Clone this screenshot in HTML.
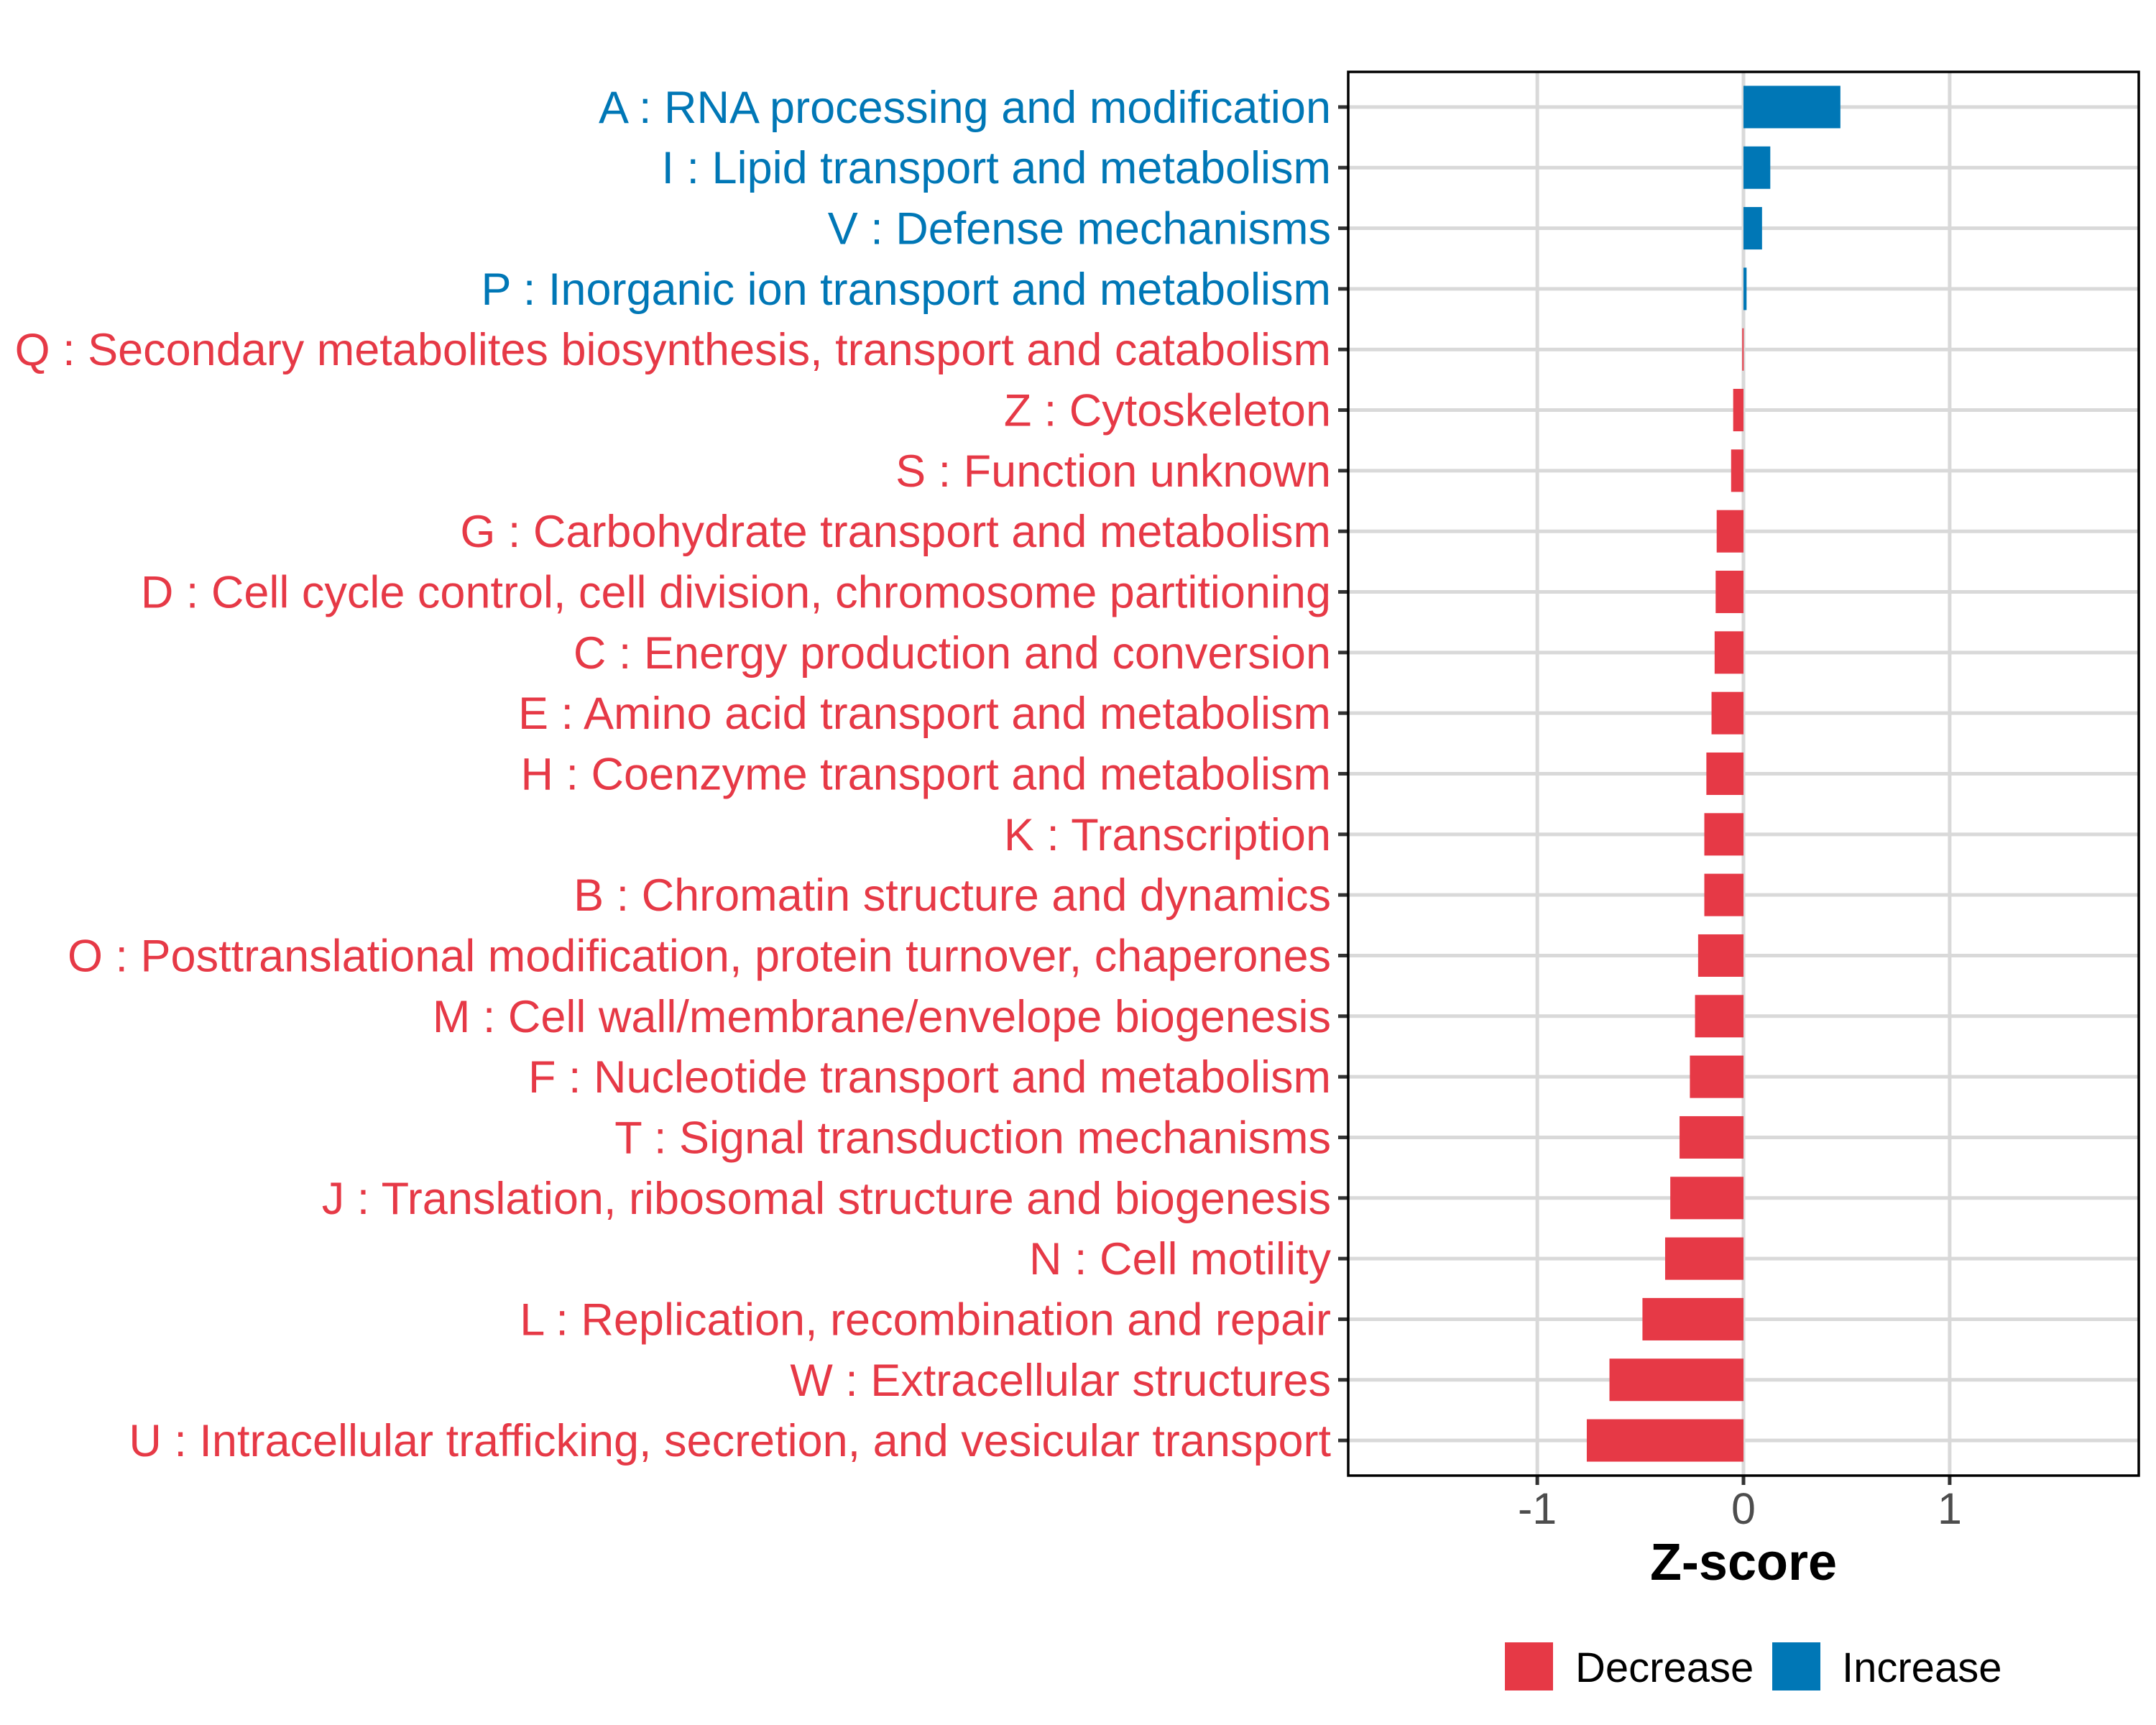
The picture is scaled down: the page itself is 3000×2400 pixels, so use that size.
<!DOCTYPE html>
<html><head><meta charset="utf-8"><style>
html,body{margin:0;padding:0;background:#fff;}
svg{display:block;font-family:"Liberation Sans",sans-serif;}
</style></head><body>
<svg id="chart" width="3000" height="2400" viewBox="0 0 3000 2400">
<rect x="0" y="0" width="3000" height="2400" fill="#fff"/>
<g id="grid"></g>
<g id="bars"></g>
<g id="ylabels"></g>
<g id="xticks"></g>
<rect x="1876" y="100" width="1100" height="1953" fill="none" stroke="#000" stroke-width="3.5"/>
<text x="2426" y="2198" text-anchor="middle" font-size="72" font-weight="bold" fill="#000">Z-score</text>
<g>
<rect x="2094" y="2285" width="67" height="67" fill="#E63946"/>
<text x="2192" y="2340" font-size="58" fill="#000">Decrease</text>
<rect x="2466" y="2285" width="67" height="67" fill="#0077B6"/>
<text x="2563" y="2340" font-size="58" fill="#000">Increase</text>
</g>
</svg>
<script>
const categories = ["A : RNA processing and modification","I : Lipid transport and metabolism","V : Defense mechanisms","P : Inorganic ion transport and metabolism","Q : Secondary metabolites biosynthesis, transport and catabolism","Z : Cytoskeleton","S : Function unknown","G : Carbohydrate transport and metabolism","D : Cell cycle control, cell division, chromosome partitioning","C : Energy production and conversion","E : Amino acid transport and metabolism","H : Coenzyme transport and metabolism","K : Transcription","B : Chromatin structure and dynamics","O : Posttranslational modification, protein turnover, chaperones","M : Cell wall/membrane/envelope biogenesis","F : Nucleotide transport and metabolism","T : Signal transduction mechanisms","J : Translation, ribosomal structure and biogenesis","N : Cell motility","L : Replication, recombination and repair","W : Extracellular structures","U : Intracellular trafficking, secretion, and vesicular transport"];
const zscores = [0.47,0.13,0.09,0.015,-0.006,-0.05,-0.06,-0.13,-0.135,-0.14,-0.155,-0.18,-0.19,-0.19,-0.22,-0.235,-0.26,-0.31,-0.355,-0.38,-0.49,-0.65,-0.76];
const xTicks = [-1,0,1];
const xTickLabels = ["-1","0","1"];

const NS="http://www.w3.org/2000/svg";
const PL=1876, PR=2976, PT=100, PB=2053;
const XMIN=-1.917, XMAX=1.917;
const n=categories.length;
const pad=0.58;
function xs(v){return PL+(v-XMIN)/(XMAX-XMIN)*(PR-PL);}
function ys(i){return PT+(pad+i)/(n-1+2*pad)*(PB-PT);}
const band=(PB-PT)/(n-1+2*pad);
function mk(tag,attrs,parent){const e=document.createElementNS(NS,tag);for(const k in attrs)e.setAttribute(k,attrs[k]);parent.appendChild(e);return e;}
const grid=document.getElementById('grid'),bars=document.getElementById('bars'),yl=document.getElementById('ylabels'),xt=document.getElementById('xticks');
for(let i=0;i<n;i++){
  const y=ys(i);
  const g=mk('line',{x1:PL,x2:PR,y1:y,y2:y,stroke:'#d9d9d9','stroke-width':5},grid);
  
  
}
xTicks.forEach((t,k)=>{
  const x=xs(t);
  const g=mk('line',{x1:x,x2:x,y1:PT,y2:PB,stroke:'#d9d9d9','stroke-width':5},grid);
  
  
  const tk=mk('line',{x1:x,x2:x,y1:PB,y2:PB+13,stroke:'#333','stroke-width':5},xt);
  
  
  const tl=mk('text',{x:x,y:2120,'text-anchor':'middle','font-size':61,fill:'#4d4d4d'},xt);
  tl.textContent=xTickLabels[k];
  
  
});
const x0=xs(0);
categories.forEach((c,i)=>{
  const v=zscores[i], y=ys(i), col=v>=0?'#0077B6':'#E63946';
  const x1=Math.min(xs(v),x0), w=Math.max(Math.abs(xs(v)-x0),2);
  const b=mk('rect',{x:x1,y:y-band*0.35,width:w,height:band*0.7,fill:col},bars);
  
  
  const tk=mk('line',{x1:PL-14,x2:PL,y1:y,y2:y,stroke:'#333','stroke-width':5},yl);
  
  
  const t=mk('text',{x:1852,y:y+22,'text-anchor':'end','font-size':63,fill:col},yl);
  t.textContent=c;
  
  
});
</script>
</body></html>
